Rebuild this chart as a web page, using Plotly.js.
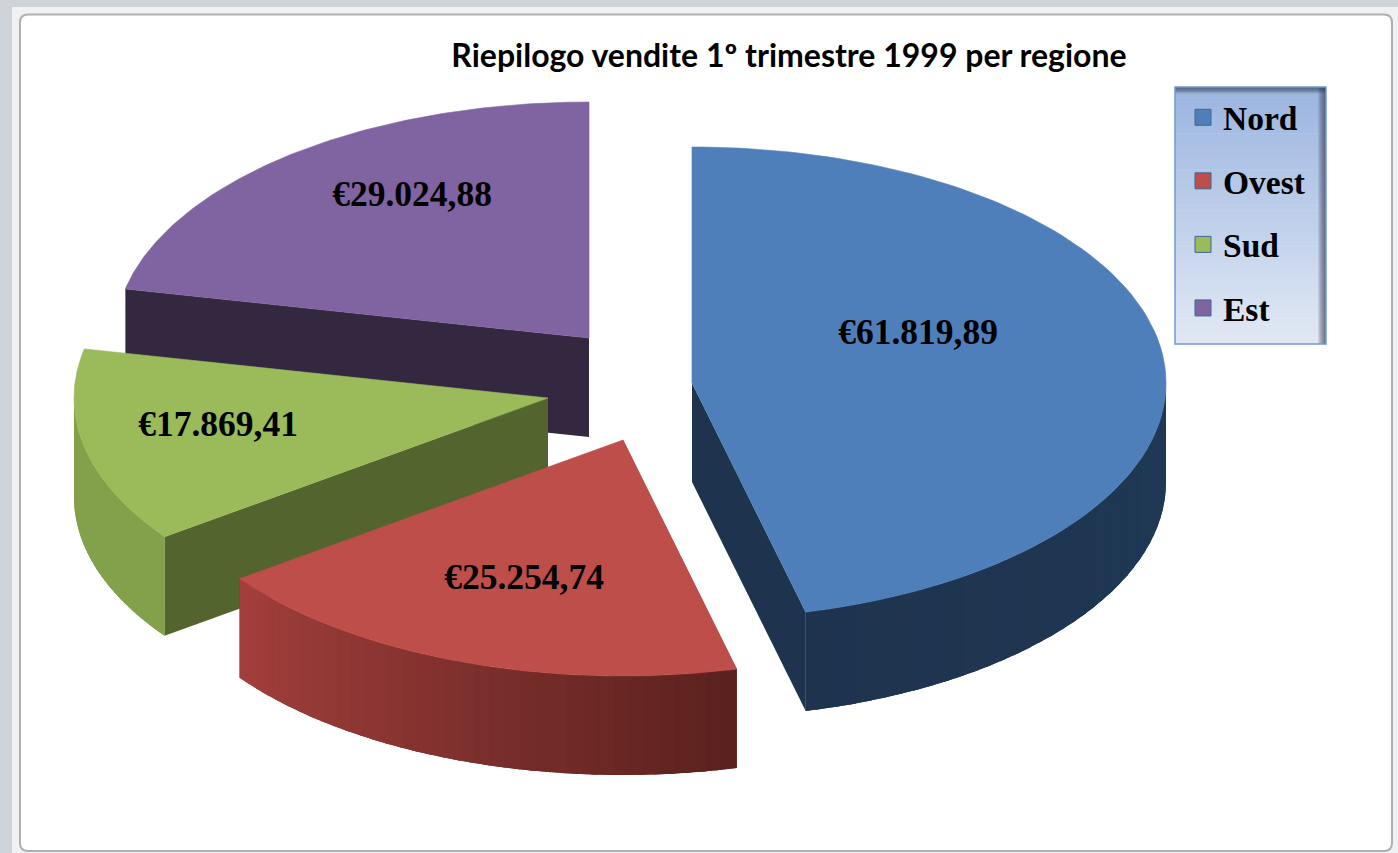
<!DOCTYPE html>
<html><head><meta charset="utf-8">
<script src="https://cdn.plot.ly/plotly-3.0.0.min.js"></script>
<style>html,body{margin:0;padding:0;background:#cfd4da;overflow:hidden}#chart{width:1398px;height:853px}</style>
</head><body><div id="chart"></div>
<script>
// ---- data ----
const categories = ['Nord', 'Ovest', 'Sud', 'Est'];
const values = [61819.89, 25254.74, 17869.41, 29024.88];
const titleText = 'Riepilogo vendite 1º trimestre 1999 per regione';

// ---- styles ----
const topColors = ['#4f7fbb', '#bd4e4a', '#9bba59', '#8063a1'];
const cutWallColors = ['#1e334e', '#8c3a37', '#53642f', '#332840'];
const rimStart = ['#22405f', '#5a211e', '#83a04b', '#332840']; // colour at the slice's start angle
const rimEnd = ['#1e334e', '#a33f3c', '#83a04b', '#332840'];   // colour at the slice's end angle

// ---- projected-pie geometry (axis units = page pixels) ----
const rx = 474, ry = 236, depth = 99;
const apexX = [692, 623, 548, 589];
const apexY = [383, 440, 398, 338];
const labelDX = [226, -99, -330, -177];
const labelDY = [-50, 138, 27, -143];

const total = values.reduce((a, b) => a + b, 0);
let acc = 0;
const angles = values.map(v => { const s = acc; acc += v / total * 2 * Math.PI; return [s, acc]; });

const euro = v => {
  const [i, d] = v.toFixed(2).split('.');
  return '€' + i.replace(/\B(?=(\d{3})+$)/g, '.') + ',' + d;
};
const hex = c => [1, 3, 5].map(k => parseInt(c.substr(k, 2), 16));
const mix = (a, b, t) => { const A = hex(a), B = hex(b); return 'rgb(' + A.map((v, k) => Math.round(v + (B[k] - v) * t)).join(',') + ')'; };
const px = (i, t) => apexX[i] + rx * Math.sin(t);
const py = (i, t) => apexY[i] - ry * Math.cos(t);
const arc = (a, b, n) => Array.from({length: n + 1}, (_, k) => a + (b - a) * k / n);

const traces = [];
const poly = (x, y, color, lw) => traces.push({type: 'scatter', mode: 'lines', x, y, fill: 'toself', fillcolor: color,
  line: {color: lw ? color : 'rgba(0,0,0,0)', width: lw || 0}, hoverinfo: 'skip', showlegend: false});
const band = (i, t0, t1, steps, color, lw) => {
  const ts = arc(t0, t1, steps), back = ts.slice().reverse();
  poly(ts.map(t => px(i, t)).concat(back.map(t => px(i, t))),
       ts.map(t => py(i, t)).concat(back.map(t => py(i, t) + depth)), color, lw);
};

// back to front: Est, Sud, Ovest, Nord
[3, 2, 1, 0].forEach(i => {
  const [a, b] = angles[i];
  // flat wall between apex and the slice edge that faces the viewer
  const edge = i === 0 ? b : a;
  poly([apexX[i], px(i, edge), px(i, edge), apexX[i]],
       [apexY[i], py(i, edge), py(i, edge) + depth, apexY[i] + depth], cutWallColors[i]);
  // outer rim, only the part facing the viewer (90° to 270°)
  const lo = Math.max(a, Math.PI / 2), hi = Math.min(b, 1.5 * Math.PI);
  if (hi > lo) {
    band(i, lo, hi, 120, mix(rimStart[i], rimEnd[i], 0.5));
    const strips = 36, w = (hi - lo) / strips;
    for (let s = 0; s < strips; s++) {
      const t0 = lo + w * s, t1 = Math.min(hi, lo + w * (s + 1.4));
      band(i, t0, t1, 6, mix(rimStart[i], rimEnd[i], (lo + w * (s + 0.5) - a) / (b - a)));
    }
  }
  // top face
  const ts = arc(a, b, 120);
  poly([apexX[i]].concat(ts.map(t => px(i, t)), [apexX[i]]),
       [apexY[i]].concat(ts.map(t => py(i, t)), [apexY[i]]), topColors[i], 0.6);
});

// value labels
categories.forEach((c, i) => traces.push({type: 'scatter', mode: 'text', x: [apexX[i] + labelDX[i]], y: [apexY[i] + labelDY[i] + 2],
  text: [euro(values[i])], textposition: 'middle center', hoverinfo: 'skip', showlegend: false,
  textfont: {family: '"Liberation Serif", serif', size: 35.5, color: '#000', weight: 700}}));

// legend entries
categories.forEach((c, i) => traces.push({type: 'scatter', mode: 'markers', name: c, x: [null], y: [null], legendgroup: c,
  marker: {symbol: 'square', size: 18, color: topColors[i], line: {color: '#3f6694', width: 1}}, hoverinfo: 'skip'}));

// ---- frame and legend panel ----
const shapes = [];
const rr = (x0, y0, x1, y1, r) => `M${x0 + r},${y0} L${x1 - r},${y0} Q${x1},${y0} ${x1},${y0 + r} L${x1},${y1 - r} Q${x1},${y1} ${x1 - r},${y1} L${x0 + r},${y1} Q${x0},${y1} ${x0},${y1 - r} L${x0},${y0 + r} Q${x0},${y0} ${x0 + r},${y0} Z`;
shapes.push({type: 'rect', layer: 'below', x0: 12, x1: 1398, y0: 7, y1: 853, line: {width: 0}, fillcolor: '#eff1f3'});
shapes.push({type: 'path', layer: 'below', path: rr(20, 14.5, 1392, 851, 8), line: {color: '#aeb0b2', width: 2}, fillcolor: '#ffffff'});
const lg = {x0: 1175, x1: 1326, y0: 87, y1: 344};
const n = 50;
for (let k = 0; k < n; k++) {
  const y0 = lg.y0 + (lg.y1 - lg.y0) * k / n, y1 = lg.y0 + (lg.y1 - lg.y0) * (k + 1) / n + 0.5;
  shapes.push({type: 'rect', layer: 'below', x0: lg.x0, x1: lg.x1, y0, y1, line: {width: 0}, fillcolor: mix('#9bb5e0', '#e1e8f4', k / (n - 1))});
}
for (let k = 0; k < 8; k++) {
  shapes.push({type: 'rect', layer: 'below', x0: lg.x0, x1: lg.x1, y0: lg.y0, y1: lg.y0 + k * 0.8 + 1, line: {width: 0}, fillcolor: 'rgba(50,60,80,0.12)'});
  shapes.push({type: 'rect', layer: 'below', x0: lg.x1 - k - 1, x1: lg.x1, y0: lg.y0, y1: lg.y1, line: {width: 0}, fillcolor: 'rgba(50,60,80,0.12)'});
}
shapes.push({type: 'rect', layer: 'below', x0: lg.x0, x1: lg.x1, y0: lg.y0, y1: lg.y1, line: {color: '#6f9bd1', width: 1.5}, fillcolor: 'rgba(0,0,0,0)'});

const W = 1398, H = 853;
const layout = {
  width: W, height: H, margin: {l: 0, r: 0, t: 0, b: 0}, paper_bgcolor: '#cfd4da', plot_bgcolor: 'rgba(0,0,0,0)',
  xaxis: {range: [0, W], visible: false, fixedrange: true},
  yaxis: {range: [H, 0], visible: false, fixedrange: true},
  title: {text: titleText, x: 789 / W, xanchor: 'center', y: 1 - 56 / H, yanchor: 'middle', font: {family: 'Lato', size: 32, color: '#000', weight: 700}},
  legend: {x: 1183 / W, xanchor: 'left', y: 1 - 89 / H, yanchor: 'top', bgcolor: 'rgba(0,0,0,0)', borderwidth: 0, tracegroupgap: 17,
    font: {family: '"Liberation Serif", serif', size: 33.5, color: '#000', weight: 700}},
  shapes, showlegend: true
};
Plotly.newPlot('chart', traces, layout, {displayModeBar: false, staticPlot: true});
</script></body></html>
